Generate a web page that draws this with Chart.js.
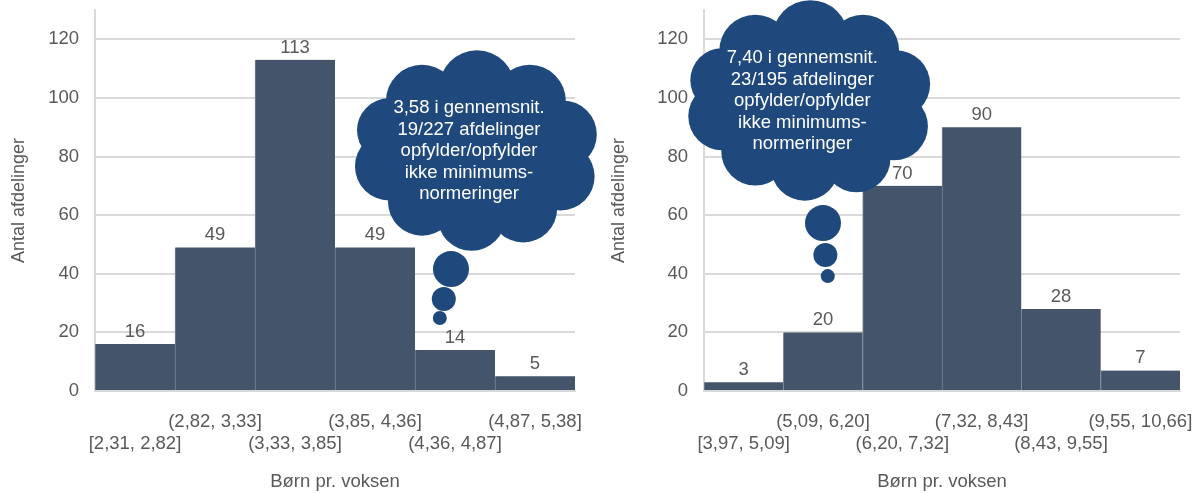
<!DOCTYPE html>
<html>
<head>
<meta charset="utf-8">
<script src="https://cdn.jsdelivr.net/npm/chart.js@4/dist/chart.umd.min.js"></script>
<style>
  body { margin: 0; background: #fff; }
  .wrap { position: absolute; top: 0; height: 493px; }
  #w1 { left: 0; width: 600px; }
  #w2 { left: 600px; width: 599px; }
</style>
</head>
<body>
<div class="wrap" id="w1"><canvas id="chartLeft" width="600" height="493"></canvas></div>
<div class="wrap" id="w2"><canvas id="chartRight" width="599" height="493"></canvas></div>
<script>
// Dữ liệu: intervaller og antal afdelinger
var leftLabels = ["[2,31, 2,82]", "(2,82, 3,33]", "(3,33, 3,85]", "(3,85, 4,36]", "(4,36, 4,87]", "(4,87, 5,38]"];
var leftValues = [16, 49, 113, 49, 14, 5];
var rightLabels = ["[3,97, 5,09]", "(5,09, 6,20]", "(6,20, 7,32]", "(7,32, 8,43]", "(8,43, 9,55]", "(9,55, 10,66]"];
var rightValues = [3, 20, 70, 90, 28, 7];
var yTicks = [0, 20, 40, 60, 80, 100, 120];

// Tekst i tankeboblerne
var leftNote = ["3,58 i gennemsnit.", "19/227 afdelinger", "opfylder/opfylder", "ikke minimums-", "normeringer"];
var rightNote = ["7,40 i gennemsnit.", "23/195 afdelinger", "opfylder/opfylder", "ikke minimums-", "normeringer"];
// boblens placering i kategori / værdi
var leftNotePos = [4.275, 81.8];
var rightNotePos = [0.84, 98.9];
var leftDots = [[3.95, 41.6, 18], [3.86, 31.4, 12], [3.81, 24.9, 7]];
var rightDots = [[1.0, 57.3, 18], [1.03, 46.4, 12], [1.06, 39.2, 7]];

var FONT = "'Liberation Sans', Arial, sans-serif";
var GREY = "#595959";

// Tal over søjlerne
var valueLabels = {
    id: "valueLabels",
    afterDatasetsDraw: function (chart) {
        var ctx = chart.ctx;
        var meta = chart.getDatasetMeta(0);
        var vals = chart.data.datasets[0].data;
        ctx.save();
        ctx.font = "18.5px " + FONT;
        ctx.fillStyle = GREY;
        ctx.textAlign = "center";
        ctx.textBaseline = "bottom";
        meta.data.forEach(function (bar, i) {
            ctx.fillText(vals[i], bar.x, bar.y - 3);
        });
        ctx.restore();
    }
};

// Tankeboble
var bumps = [
    [-0.5, -0.6, 36], [0.0, -0.75, 38], [0.48, -0.6, 36], [0.78, -0.2, 34],
    [0.76, 0.3, 34], [0.42, 0.68, 34], [-0.05, 0.78, 34], [-0.5, 0.6, 34],
    [-0.8, 0.18, 34], [-0.8, -0.25, 32]
];
var cloud = {
    id: "cloud",
    afterDatasetsDraw: function (chart, args, opts) {
        var ctx = chart.ctx;
        var xs = chart.scales.x, ys = chart.scales.y;
        var cx = xs.getPixelForValue(opts.pos[0]);
        var cy = ys.getPixelForValue(opts.pos[1]);
        var a = 110, b = 84;
        ctx.save();
        ctx.fillStyle = "#1f497d";
        ctx.beginPath();
        ctx.ellipse(cx, cy, a * 0.9, b * 0.88, 0, 0, Math.PI * 2);
        ctx.fill();
        bumps.forEach(function (c) {
            ctx.beginPath();
            ctx.arc(cx + c[0] * a, cy + c[1] * b, c[2], 0, Math.PI * 2);
            ctx.fill();
        });
        opts.dots.forEach(function (d) {
            ctx.beginPath();
            ctx.arc(xs.getPixelForValue(d[0]), ys.getPixelForValue(d[1]), d[2], 0, Math.PI * 2);
            ctx.fill();
        });
        ctx.fillStyle = "#ffffff";
        ctx.font = "18.5px " + FONT;
        ctx.textAlign = "center";
        ctx.textBaseline = "middle";
        var n = opts.lines.length;
        opts.lines.forEach(function (t, i) {
            ctx.fillText(t, cx - 8, cy + (i - (n - 1) / 2) * 21.5);
        });
        ctx.restore();
    }
};

function makeChart(id, labels, values, yWidth, padRight, note, notePos, dots) {
    var ctx = document.getElementById(id).getContext("2d");
    return new Chart(ctx, {
        type: "bar",
        data: {
            labels: labels,
            datasets: [{
                data: values,
                backgroundColor: "#44546a",
                borderColor: "#7d8899",
                borderWidth: { left: 1, right: 0, top: 0, bottom: 0 },
                borderSkipped: false,
                barPercentage: 1,
                categoryPercentage: 1
            }]
        },
        options: {
            responsive: false,
            animation: false,
            layout: { padding: { top: 10, right: padRight, left: 0, bottom: 0 } },
            plugins: {
                legend: { display: false },
                tooltip: { enabled: false },
                cloud: { lines: note, pos: notePos, dots: dots }
            },
            scales: {
                x: {
                    grid: { display: false },
                    border: { display: true, color: "#d9d9d9", width: 2 },
                    ticks: {
                        autoSkip: false,
                        maxRotation: 0,
                        padding: 12,
                        color: GREY,
                        font: { family: FONT, size: 18.5 },
                        callback: function (v, i) {
                            var l = labels[i];
                            return i % 2 === 0 ? ["", l] : [l, ""];
                        }
                    },
                    title: {
                        display: true,
                        text: "Børn pr. voksen",
                        color: GREY,
                        font: { family: FONT, size: 18.5 },
                        padding: { top: 0, bottom: 0 }
                    },
                    afterFit: function (scale) {
                        scale.height = 102;
                        scale.paddingLeft = 0;
                        scale.paddingRight = 0;
                    }
                },
                y: {
                    min: 0,
                    max: 130,
                    grid: { color: "#d9d9d9", lineWidth: 2, drawTicks: false },
                    border: { display: true, color: "#d9d9d9", width: 2 },
                    ticks: {
                        stepSize: 20,
                        padding: 16,
                        color: GREY,
                        font: { family: FONT, size: 18.5 }
                    },
                    afterBuildTicks: function (scale) {
                        scale.ticks = yTicks.map(function (v) { return { value: v }; });
                    },
                    title: {
                        display: true,
                        text: "Antal afdelinger",
                        color: GREY,
                        font: { family: FONT, size: 18 },
                        padding: { top: 8, bottom: 0 }
                    },
                    afterFit: function (scale) {
                        scale.width = yWidth;
                        scale.paddingTop = 0;
                        scale.paddingBottom = 0;
                    }
                }
            }
        },
        plugins: [valueLabels, cloud]
    });
}

makeChart("chartLeft", leftLabels, leftValues, 95, 25, leftNote, leftNotePos, leftDots);
makeChart("chartRight", rightLabels, rightValues, 104, 19, rightNote, rightNotePos, rightDots);
</script>
</body>
</html>
